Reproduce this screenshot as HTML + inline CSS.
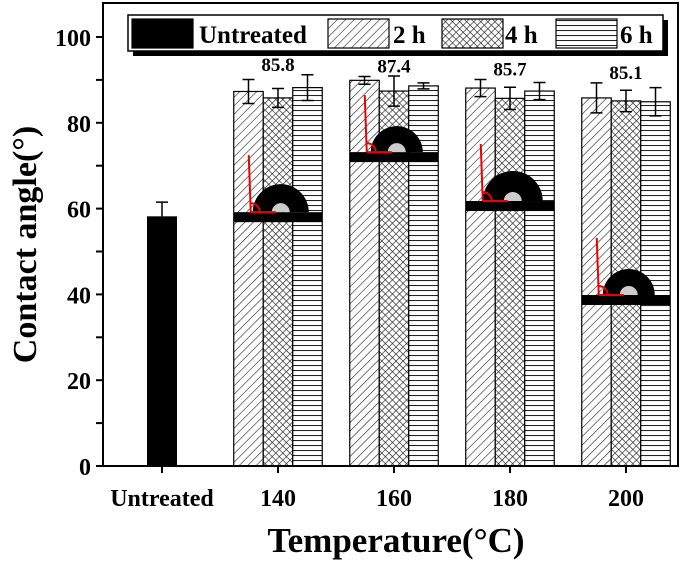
<!DOCTYPE html>
<html><head><meta charset="utf-8"><style>
body{margin:0;background:#fff}
svg text{font-family:"Liberation Serif",serif;font-weight:bold}
</style></head><body>
<svg id="chart" width="685" height="560">
<defs>
<pattern id="p2" width="6" height="6" patternUnits="userSpaceOnUse" patternTransform="rotate(45)"><rect width="6" height="6" fill="#fff"/><line x1="0" y1="0" x2="0" y2="6" stroke="#222" stroke-width="1.2"/></pattern>
<pattern id="p4" width="5" height="5" patternUnits="userSpaceOnUse" patternTransform="rotate(45)"><rect width="5" height="5" fill="#fff"/><line x1="0" y1="0" x2="0" y2="5" stroke="#222" stroke-width="1.3"/><line x1="0" y1="0" x2="5" y2="0" stroke="#222" stroke-width="1.3"/></pattern>
<pattern id="p6" width="5" height="5" patternUnits="userSpaceOnUse"><rect width="5" height="5" fill="#fff"/><line x1="0" y1="0.5" x2="5" y2="0.5" stroke="#222" stroke-width="1.1"/></pattern>
</defs>
<g id="plot"></g>
</svg>
<script>
const categories=["Untreated","140","160","180","200"];
const series=["2 h","4 h","6 h"];
const untreatedValue=58.2, untreatedErr=3.3;
const values2h=[87.3,89.9,88.1,85.8];
const values4h=[85.8,87.4,85.7,85.1];
const values6h=[88.2,88.6,87.4,84.9];
const err2h=[2.8,0.9,2.0,3.5];
const err4h=[2.2,3.5,2.6,2.5];
const err6h=[3.0,0.7,2.0,3.3];
const labelValues=["85.8","87.4","85.7","85.1"];
const dropletLevel=[58,72,60.6,38.7];
const yTicks=[0,20,40,60,80,100];

const NS="http://www.w3.org/2000/svg";
const g=document.getElementById('plot');
const L=103,R=678,T=3,B=466;
function y(v){return B-v*4.29;}
function xc(i){return 162+i*116;}
const BW=29.5;
function mk(tag,a,parent){const e=document.createElementNS(NS,tag);for(const k in a)e.setAttribute(k,a[k]);(parent||g).appendChild(e);return e;}
function txt(s,a){const e=mk('text',a);e.textContent=s;return e;}

let ub=mk('rect',{x:xc(0)-15,y:y(untreatedValue),width:30,height:B-y(untreatedValue),fill:'#000'});


let ue=mk('path',{d:`M${xc(0)} ${y(untreatedValue)} V${y(untreatedValue+untreatedErr)} M${xc(0)-6} ${y(untreatedValue+untreatedErr)} H${xc(0)+6}`,stroke:'#000','stroke-width':1.5,fill:'none'});



const all=[values2h,values4h,values6h], errs=[err2h,err4h,err6h], pats=['url(#p2)','url(#p4)','url(#p6)'];
const dropR=[28,26,30,26];
for(let i=0;i<4;i++){
  const c=xc(i+1);
  for(let s=0;s<3;s++){
    const x0=c-1.5*BW+s*BW, v=all[s][i];
    const r=mk('rect',{x:x0,y:y(v),width:BW,height:B-y(v),fill:pats[s],stroke:'#000','stroke-width':1.2});
    
    
  }
  const dy=y(dropletLevel[i]);
  const gx=c-1.5*BW;
  const d=mk('g',{});
  
  
  mk('rect',{x:gx,y:dy-5,width:3*BW,height:10,fill:'#000'},d);
  const cx=gx+47, rr=dropR[i];
  mk('path',{d:`M${cx-rr} ${dy-5} A${rr} ${rr} 0 0 1 ${cx+rr} ${dy-5} Z`,fill:'#000'},d);
  mk('path',{d:`M${cx-9} ${dy-5} A9 9 0 0 1 ${cx+9} ${dy-5} Z`,fill:'#ccc'},d);
  mk('path',{d:`M${gx+17} ${dy-5} L${gx+15} ${dy-62} M${gx+17} ${dy-5} H${gx+42} M${gx+17} ${dy-14} A9 9 0 0 1 ${gx+26} ${dy-5}`,stroke:'#e00','stroke-width':2,fill:'none'},d);
  for(let s=0;s<3;s++){
    const ex=c-1.5*BW+s*BW+BW/2, v=all[s][i], e=errs[s][i];
    const p=mk('path',{d:`M${ex} ${y(v-e)} V${y(v+e)} M${ex-6} ${y(v-e)} H${ex+6} M${ex-6} ${y(v+e)} H${ex+6}`,stroke:'#000','stroke-width':1.5,fill:'none'});
    
    
  }
  const lt=txt(labelValues[i],{x:c,y:y(Math.max(all[0][i]+errs[0][i],all[2][i]+errs[2][i]))-4,'font-size':19,'text-anchor':'middle'});
  
  
}
const fr=mk('rect',{x:L,y:T,width:R-L,height:B-T,fill:'none',stroke:'#000','stroke-width':2});


for(let v=0;v<=100;v+=10){mk('line',{x1:L-7,x2:L,y1:y(v),y2:y(v),stroke:'#000','stroke-width':2});}
for(const v of yTicks){
  const t=txt(String(v),{x:L-12,y:y(v)+9,'font-size':24,'text-anchor':'end'});
  
  
}
for(let i=0;i<categories.length;i++){
  mk('line',{x1:xc(i),x2:xc(i),y1:B,y2:B+7,stroke:'#000','stroke-width':2});
  const t=txt(categories[i],{x:xc(i),y:B+40,'font-size':24,'text-anchor':'middle'});
  
  
}
const yt=txt('Contact angle(°)',{x:0,y:0,'font-size':34,'text-anchor':'middle',transform:`translate(36,${(T+B)/2+10}) rotate(-90)`});


const xt=txt('Temperature(°C)',{x:396,y:552,'font-size':35,'text-anchor':'middle'});


const lg=mk('g',{});


mk('rect',{x:133,y:20,width:535,height:36,fill:'#000'},lg);
mk('rect',{x:128,y:15,width:535,height:36,fill:'#fff',stroke:'#000','stroke-width':1.5},lg);
const items=[[132,'#000','Untreated',199],[328,'url(#p2)','2 h',393],[442,'url(#p4)','4 h',505],[556,'url(#p6)','6 h',620]];
for(const it of items){
  mk('rect',{x:it[0],y:19,width:61,height:29,fill:it[1],stroke:'#000','stroke-width':1.2},lg);
  const t=mk('text',{x:it[3],y:43,'font-size':25},lg);t.textContent=it[2];
  
  
}
</script>
</body></html>
